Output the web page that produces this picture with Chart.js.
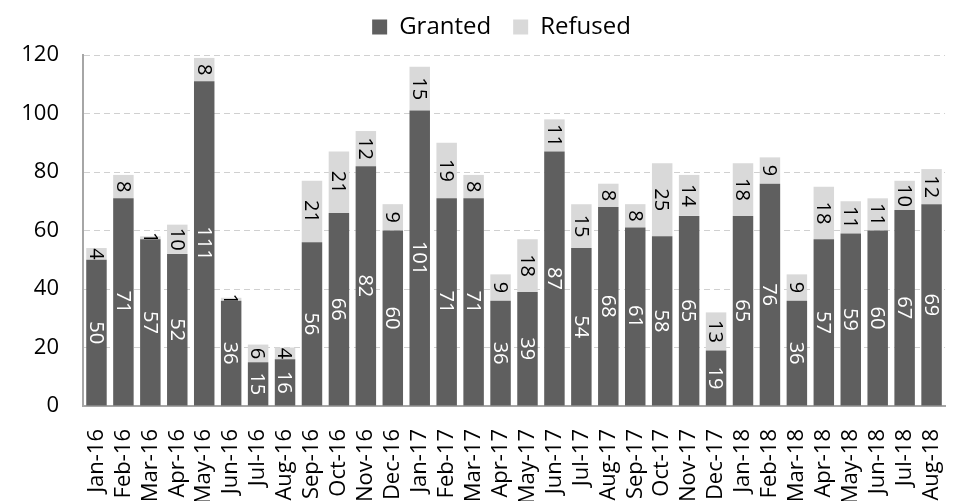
<!DOCTYPE html>
<html>
<head>
<meta charset="utf-8">
<script src="https://cdn.jsdelivr.net/npm/chart.js@4"></script>
<style>
  html, body { margin: 0; padding: 0; background: #fff; overflow: hidden; }
  #wrap { width: 973px; height: 501px; }
</style>
</head>
<body>
<div id="wrap"><canvas id="permits"></canvas></div>
<script>
const months = ['Jan-16','Feb-16','Mar-16','Apr-16','May-16','Jun-16','Jul-16','Aug-16','Sep-16','Oct-16','Nov-16','Dec-16',
                'Jan-17','Feb-17','Mar-17','Apr-17','May-17','Jun-17','Jul-17','Aug-17','Sep-17','Oct-17','Nov-17','Dec-17',
                'Jan-18','Feb-18','Mar-18','Apr-18','May-18','Jun-18','Jul-18','Aug-18'];
const granted = [50, 71, 57, 52, 111, 36, 15, 16, 56, 66, 82, 60,
                 101, 71, 71, 36, 39, 87, 54, 68, 61, 58, 65, 19,
                 65, 76, 36, 57, 59, 60, 67, 69];
const refused = [4, 8, 1, 10, 8, 1, 6, 4, 21, 21, 12, 9,
                 15, 19, 8, 9, 18, 11, 15, 8, 8, 25, 14, 13,
                 18, 9, 9, 18, 11, 11, 10, 12];
const yTicks = [0, 20, 40, 60, 80, 100, 120];

const FONT = "'Open Sans', 'DejaVu Sans', sans-serif";

// value labels, turned a quarter clockwise, centred in each segment
var barLabels = {
    id: 'barLabels',
    afterDatasetsDraw: (chart) => {
        const ctx = chart.ctx;
        chart.data.datasets.forEach((ds, i) => {
            const meta = chart.getDatasetMeta(i);
            meta.data.forEach((bar, j) => {
                const cy = (bar.y + bar.base) / 2;
                ctx.save();
                ctx.translate(bar.x, cy);
                ctx.rotate(Math.PI / 2);
                ctx.font = '20px ' + FONT;
                ctx.fillStyle = ds.labelColor;
                ctx.textAlign = 'center';
                ctx.textBaseline = 'middle';
                ctx.fillText(String(ds.data[j]), 0, 1);
                ctx.restore();
            });
        });
    }
};

// nudge the legend a bit right and up after layout
var legendNudge = {
    id: 'legendNudge',
    afterUpdate: (chart) => {
        const lg = chart.legend;
        if (!lg) return;
        lg.left += 16; lg.right += 16;
        lg.top -= 7; lg.bottom -= 7;
    }
};

new Chart(document.getElementById('permits').getContext('2d'), {
    type: 'bar',
    plugins: [barLabels, legendNudge],
    data: {
        labels: months,
        datasets: [
            { label: 'Granted', data: granted, backgroundColor: '#5f5f5f', labelColor: '#ffffff' },
            { label: 'Refused', data: refused, backgroundColor: '#d9d9d9', labelColor: '#000000' }
        ]
    },
    options: {
        responsive: true,
        maintainAspectRatio: false,
        animation: false,
        layout: { padding: { top: 0, right: 2, left: 0, bottom: 0 } },
        datasets: { bar: { barPercentage: 0.76, categoryPercentage: 1.0 } },
        plugins: {
            legend: {
                display: true,
                position: 'top',
                maxHeight: 55,
                labels: {
                    color: '#000',
                    font: { family: FONT, size: 24 },
                    boxWidth: 15,
                    boxHeight: 15,
                    padding: 22
                }
            },
            tooltip: { enabled: false }
        },
        scales: {
            x: {
                stacked: true,
                grid: { display: false },
                border: { color: '#a6a6a6', width: 2 },
                afterFit: (axis) => { axis.height = 95; },
                ticks: {
                    color: '#000',
                    font: { family: FONT, size: 22 },
                    minRotation: 90,
                    maxRotation: 90,
                    autoSkip: false,
                    padding: 15
                }
            },
            y: {
                stacked: true,
                min: 0,
                max: 120,
                afterBuildTicks: (axis) => { axis.ticks = yTicks.map(v => ({ value: v })); },
                afterFit: (axis) => { axis.width = 83; },
                grid: { color: '#d0d0d0', drawTicks: false },
                border: { color: '#a6a6a6', width: 2, dash: [6, 4] },
                ticks: {
                    color: '#000',
                    font: { family: FONT, size: 22 },
                    padding: 24
                }
            }
        }
    }
});
</script>
</body>
</html>
